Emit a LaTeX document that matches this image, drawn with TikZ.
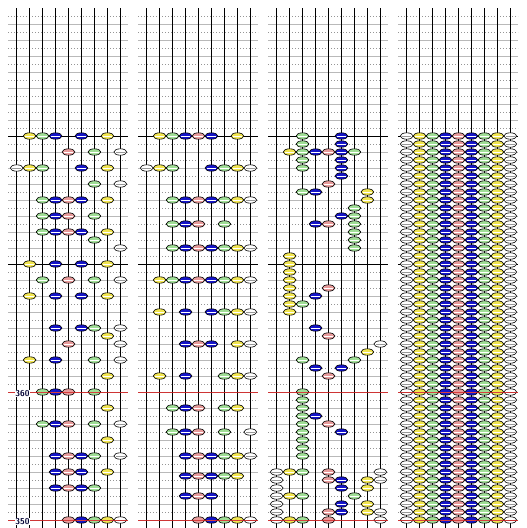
\documentclass[tikz,border=0pt]{standalone}
\usepackage{tikz}
\usetikzlibrary{positioning}

\definecolor{beadwhite}{RGB}{255,255,255}
\definecolor{beadyellow}{RGB}{242,230,80}
\definecolor{beadgreen}{RGB}{160,222,150}
\definecolor{beadblue}{RGB}{20,20,200}
\definecolor{beadpink}{RGB}{232,155,155}
\definecolor{gridgray}{RGB}{185,185,185}
\definecolor{dotgray}{RGB}{150,150,150}
\definecolor{markred}{RGB}{210,30,30}

\tikzset{
  bead/.style={draw=black, line width=0.6pt},
  col0/.style={fill=beadwhite}, col8/.style={fill=beadwhite},
  col1/.style={fill=beadyellow}, col7/.style={fill=beadyellow},
  col2/.style={fill=beadgreen}, col6/.style={fill=beadgreen},
  col3/.style={fill=beadblue}, col5/.style={fill=beadblue},
  col4/.style={fill=beadpink},
  hl0/.style={draw=gray!80, line width=0.6pt}, hl8/.style={hl0},
  hl1/.style={draw=white, line width=0.6pt}, hl7/.style={hl1},
  hl2/.style={hl1}, hl6/.style={hl1}, hl3/.style={hl1}, hl5/.style={hl1},
  hl4/.style={hl1},
  wire/.style={black, line width=0.9pt},
  dotline/.style={dotgray, line width=0.8pt, dash pattern=on 1pt off 2pt},
  solidline/.style={gridgray, line width=1pt},
  redmark/.style={markred, line width=1pt, opacity=0.85},
  stamp/.style={font=\sffamily\bfseries\fontsize{8.5}{8.5}\selectfont, text=black!80!blue, fill=white, inner sep=0.3pt}
}

% bead: panel offset, row y, column
\newcommand{\bead}[3]{%
  \path[bead, col#3] ({#1+16.7+12.95*#3},#2) ellipse [x radius=6.4pt, y radius=3.2pt];
  \draw[hl#3] ({#1+12.3+12.95*#3},#2) -- ({#1+21.1+12.95*#3},#2);
}

\begin{document}
\begin{tikzpicture}[x=1pt, y=-1pt]
\useasboundingbox (0,0) rectangle (527,528);

% Grid and wires
\foreach \p in {0,130,260,390} {
  \foreach \y in {16,32,...,512}
    \draw[dotline] (\p+8,\y) -- (\p+128,\y);
  \foreach \y in {24,40,...,520}
    \draw[solidline] (\p+8,\y) -- (\p+128,\y);
  \draw[wire] (\p+8,136) -- (\p+128,136);
  \draw[wire] (\p+8,264) -- (\p+128,264);
  \foreach \c in {0,...,8}
    \draw[wire] ({\p+16.7+12.95*\c},8) -- ({\p+16.7+12.95*\c},528);
}

% Panel 1
\foreach \y/\cs in {136/{1,2,3,5,7}, 152/{4,6,8}, 168/{0,1,2,5,7}, 184/{6,8},
    200/{2,3,4,5,7}, 216/{2,3,4,6}, 232/{2,3,4,5,7}, 240/{6}, 248/{8},
    264/{1,3,5,7}, 280/{2,4,6,8}, 296/{1,3,5,7}, 328/{3,5,6,8}, 336/{7},
    344/{4,8}, 360/{1,3,6,8}, 376/{7}, 392/{2,3,4,6}, 408/{7},
    424/{2,3,4,6,8}, 440/{7}, 456/{3,4,5,6,8}, 472/{3,4,5,7},
    488/{3,4,5,6}, 520/{4,5,6,7,8}}
  \foreach \c in \cs {\bead{0}{\y}{\c}}

% Panel 2
\foreach \y/\cs in {136/{1,2,3,4,5,7}, 168/{0,1,2,5,6,7,8}, 200/{2,3,4,5,6,7,8},
    224/{2,3,4,6}, 248/{2,3,4,5,6,7,8}, 280/{1,2,3,4,5,6,7,8},
    312/{1,3,5,6,7,8}, 344/{3,4,5,7,8}, 376/{1,3,6,7,8}, 408/{2,3,4,6,7},
    432/{2,3,4,6,8}, 456/{3,4,5,6,7,8}, 476/{3,4,5,6,7}, 496/{3,4,5},
    520/{4,5,6,7,8}}
  \foreach \c in \cs {\bead{130}{\y}{\c}}

% Panel 3
\foreach \y/\cs in {136/{2,5}, 144/{2,5}, 152/{1,2,3,4,5,6}, 160/{2,5},
    168/{2,5}, 176/{5}, 184/{4}, 192/{2,3,7}, 200/{7}, 208/{6}, 216/{5,6},
    224/{3,4,6}, 232/{6}, 240/{6}, 248/{6}, 256/{1}, 264/{1}, 272/{1},
    280/{1}, 288/{1,4}, 296/{1,3}, 304/{1,2}, 312/{1}, 328/{3}, 336/{4},
    344/{8}, 352/{7}, 360/{2,6}, 368/{3,5}, 376/{4}, 392/{2}, 400/{2},
    408/{2}, 416/{2,3}, 424/{2,4}, 432/{2,5}, 440/{2}, 448/{2}, 456/{2},
    472/{0,1,2,4,8}, 480/{0,4,5,7,8}, 488/{0,5,7}, 496/{0,1,2,6},
    504/{0,5,7}, 512/{0,4,5,7,8}, 520/{0,1,2,4,8}}
  \foreach \c in \cs {\bead{260}{\y}{\c}}

% Panel 4
\foreach \y in {136,144,...,520}
  \foreach \c in {0,...,8} {\bead{390}{\y}{\c}}

% Marks
\foreach \p in {0,130,260,390} {
  \draw[redmark] (\p+8,392) -- (\p+128,392);
  \draw[redmark] (\p+8,520) -- (\p+128,520);
}
\node[stamp] (t360) at (22.5,393.8) {360};
\node[stamp] (t350) at (22.5,521.8) {350};
\end{tikzpicture}
\end{document}
